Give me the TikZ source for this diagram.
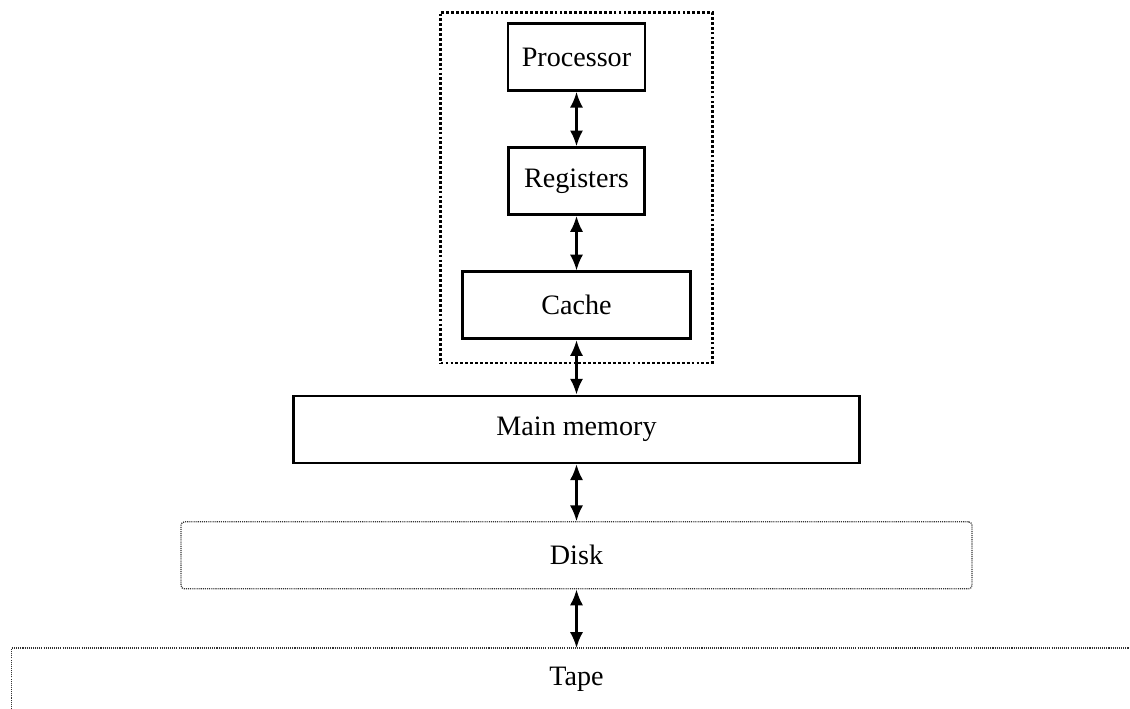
\documentclass[tikz,border=0pt]{standalone}
\usepackage{fontspec}
\setmainfont{Liberation Serif}
\usetikzlibrary{positioning, fit, arrows.meta}

\begin{document}
\begin{tikzpicture}[
    node distance=1.09cm,
    level/.style={rectangle, draw, line width=1.5pt, minimum height=1.34cm,
        inner sep=0pt, font=\fontsize{16}{19}\selectfont},
    outer/.style={rectangle, draw=black!80, line width=0.7pt,
        dash pattern=on 0.6pt off 0.6pt, % fine dots
        minimum height=1.34cm, inner sep=0pt, font=\fontsize{16}{19}\selectfont},
    cpubox/.style={rectangle, draw, line width=1.6pt,
        dash pattern=on 1.6pt off 1.2pt},
    link/.style={{Latex[length=9pt,width=7.5pt]}-{Latex[length=9pt,width=7.5pt]}, line width=1.4pt}
]
\useasboundingbox (0,0) rectangle (22.6,14.16);

% Inside the processor
\node[level, minimum width=2.74cm] (proc) at (11.53,13.02) {Processor};
\node[level, minimum width=2.72cm, below=of proc] (reg) {Registers};
\node[level, minimum width=4.56cm, below=of reg] (cache) {Cache};

% Dotted frame round them
\node[cpubox, fit=(proc)(cache), inner xsep=0.41cm, inner ysep=0.33cm, yshift=-0.13cm] (cpu) {};

% Outer levels
\node[level, minimum width=11.32cm, below=of cache] (main) {Main memory};
\node[outer, minimum width=15.82cm, below=1.14cm of main, rounded corners=2pt] (disk) {Disk};
\node[outer, draw=none, minimum width=22.56cm, minimum height=1.24cm, below=1.17cm of disk] (tape) {Tape};
\draw[black!80, line width=0.7pt, dash pattern=on 0.6pt off 0.6pt]
    (tape.south west) -- (tape.north west) -- (tape.north east);

% Arrows
\draw[link] (proc) -- (reg);
\draw[link] (reg) -- (cache);
\draw[link] (cache) -- (main);
\draw[link] (main) -- (disk);
\draw[link] (disk) -- (tape);

\end{tikzpicture}
\end{document}
